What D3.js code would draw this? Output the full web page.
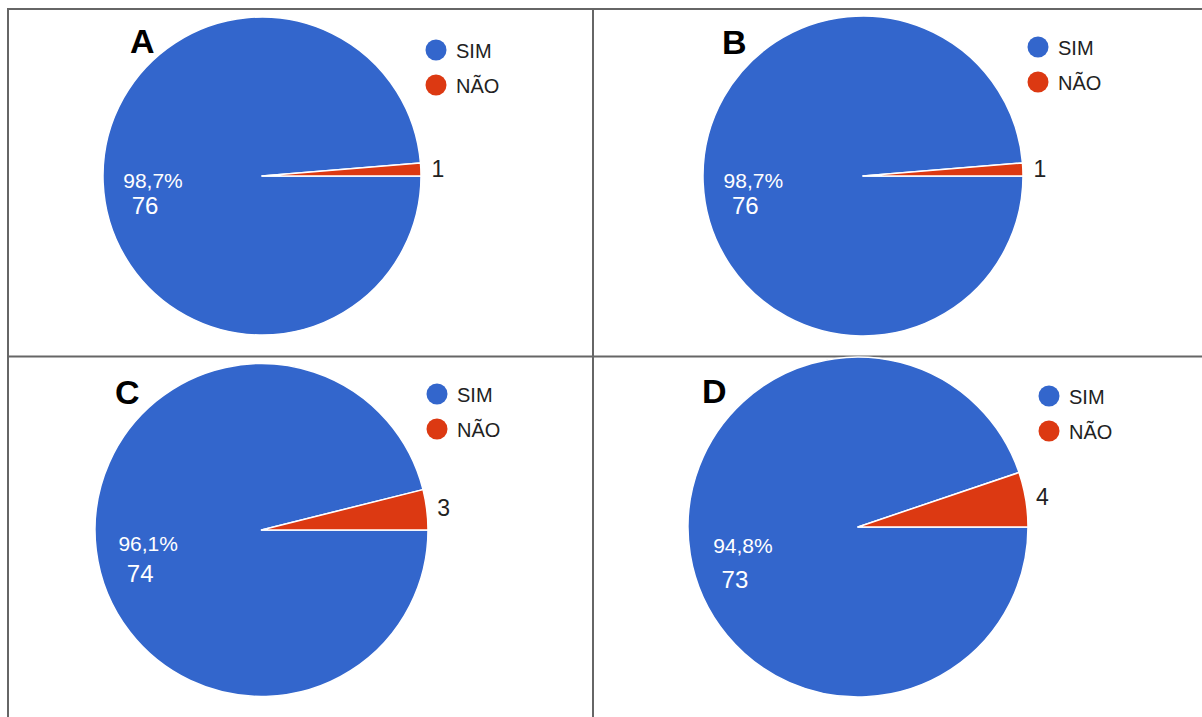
<!DOCTYPE html>
<html>
<head>
<meta charset="utf-8">
<script src="https://cdn.jsdelivr.net/npm/d3@7"></script>
<style>
  html, body { margin: 0; padding: 0; background: #ffffff; }
  svg { display: block; }
</style>
</head>
<body>
<svg id="chart" width="1202" height="717"></svg>
<script>
// Survey answers per question panel
const panelLetters = ["A", "B", "C", "D"];
const categories = ["SIM", "NÃO"];
const simCounts = [76, 76, 74, 73];
const naoCounts = [1, 1, 3, 4];
const sliceColors = ["#3366cc", "#dc3912"];

// Panel geometry (pie centre / radius, letter and legend anchors)
const layout = [
  { cx: 262,   cy: 176, r: 159,   letter: [130, 53],  legend: [436, 50],  valueDy: 26 },
  { cx: 863,   cy: 176, r: 160,   letter: [722, 54],  legend: [1038, 47], valueDy: 26 },
  { cx: 261.5, cy: 530, r: 166.5, letter: [115, 404], legend: [437, 394], valueDy: 31 },
  { cx: 858,   cy: 527, r: 170,   letter: [702, 403], legend: [1049, 396], valueDy: 35 }
];

const svg = d3.select("#chart");
const font = "'Liberation Sans', Arial, sans-serif";
const pctFmt = d3.formatLocale({ decimal: ",", thousands: ".", grouping: [3], currency: ["R$", ""] }).format(".1%");

// Table grid lines
const grid = svg.append("g").attr("stroke", "#666666").attr("stroke-width", 2);
grid.append("line").attr("x1", 7).attr("x2", 1202).attr("y1", 9).attr("y2", 9);
grid.append("line").attr("x1", 7).attr("x2", 1202).attr("y1", 356.5).attr("y2", 356.5);
grid.append("line").attr("x1", 8).attr("x2", 8).attr("y1", 8).attr("y2", 717);
grid.append("line").attr("x1", 593).attr("x2", 593).attr("y1", 8).attr("y2", 717);

const color = d3.scaleOrdinal().domain(categories).range(sliceColors);

const pie = d3.pie()
  .sort(null)
  .value(d => d.value)
  .startAngle(Math.PI / 2)
  .endAngle(Math.PI / 2 + 2 * Math.PI);

panelLetters.forEach((letter, i) => {
  const L = layout[i];
  const data = [
    { cat: categories[0], value: simCounts[i] },
    { cat: categories[1], value: naoCounts[i] }
  ];
  const total = d3.sum(data, d => d.value);
  const arcs = pie(data);
  const arc = d3.arc().innerRadius(0).outerRadius(L.r);

  const g = svg.append("g").attr("transform", `translate(${L.cx},${L.cy})`);

  g.selectAll("path")
    .data(arcs)
    .join("path")
    .attr("d", arc)
    .attr("fill", d => color(d.data.cat))
    .attr("stroke", "#ffffff")
    .attr("stroke-width", 1.5)
    .attr("stroke-linejoin", "round");

  // Label inside the large slice: percentage and count
  const big = arcs[0];
  const midA = (big.startAngle + big.endAngle) / 2;
  const k = 0.686 * L.r;
  const px = Math.sin(midA) * k;
  const py = -Math.cos(midA) * k;
  g.append("text")
    .attr("x", px).attr("y", py + 7.5)
    .attr("text-anchor", "middle")
    .attr("font-family", font).attr("font-size", 21)
    .attr("fill", "#ffffff")
    .text(pctFmt(big.data.value / total));
  g.append("text")
    .attr("x", px - 8).attr("y", py + 7.5 + L.valueDy)
    .attr("text-anchor", "middle")
    .attr("font-family", font).attr("font-size", 24)
    .attr("fill", "#ffffff")
    .text(big.data.value);

  // Outside label for the small slice
  const small = arcs[1];
  const midS = (small.startAngle + small.endAngle) / 2;
  const ro = L.r + 17;
  g.append("text")
    .attr("x", Math.sin(midS) * ro)
    .attr("y", -Math.cos(midS) * ro)
    .attr("dy", "0.36em")
    .attr("text-anchor", "middle")
    .attr("font-family", font).attr("font-size", 23)
    .attr("fill", "#222222")
    .text(small.data.value);

  // Panel letter
  svg.append("text")
    .attr("x", L.letter[0]).attr("y", L.letter[1])
    .attr("font-family", font).attr("font-weight", "bold").attr("font-size", 34)
    .attr("fill", "#000000")
    .text(letter);

  // Legend
  const lg = svg.append("g").attr("transform", `translate(${L.legend[0]},${L.legend[1]})`);
  const items = lg.selectAll("g").data(categories).join("g")
    .attr("transform", (d, j) => `translate(0,${j * 35})`);
  items.append("circle").attr("r", 10.5).attr("fill", d => color(d));
  items.append("text")
    .attr("x", 20).attr("y", 7.5)
    .attr("font-family", font).attr("font-size", 20)
    .attr("fill", "#222222")
    .text(d => d);
});
</script>
</body>
</html>
